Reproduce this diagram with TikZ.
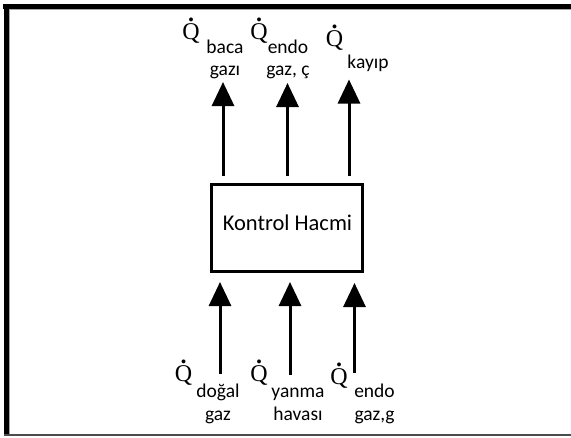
\documentclass[tikz,border=0pt]{standalone}
\usepackage{fontspec}
\setmainfont{Carlito}
\newfontfamily\qfont{Liberation Serif}
\newcommand\qdotsym{\leavevmode\hbox{\ooalign{Q\cr\hidewidth\raisebox{0.74em}{\textbf{.}}\hidewidth\cr}}}
\usetikzlibrary{arrows.meta}
\begin{document}
\begin{tikzpicture}[x=1pt,y=-1pt,
  flow/.style={line width=3pt, -{Triangle[width=22pt,length=24pt]}},
  qlab/.style={inner sep=0pt, anchor=base, font=\qfont\fontsize{24}{24}\selectfont},
  subtop/.style={inner sep=0pt, anchor=base, align=center, font=\fontsize{19.5}{22}\selectfont},
  subbot/.style={inner sep=0pt, anchor=base, align=center, font=\fontsize{19.5}{23}\selectfont},
  cv/.style={draw, line width=3pt, minimum width=151pt, minimum height=87.3pt, inner sep=0pt},
  frameedge/.style={line width=5pt, black},
  frameshade/.style={line width=1pt, gray!70}
]
\useasboundingbox (0,0) rectangle (571,437);
% frame
\draw[frameshade] (9.2,9.5) -- (571,9.5);
\draw[frameshade] (9.2,9.5) -- (9.2,434);
\draw[frameedge] (3,6.7) -- (571,6.7);
\draw[frameedge] (6,4.3) -- (6,435.6);
\draw[line width=1.4pt, gray!60!black] (3.5,435) -- (571,435);

% control volume
\node[cv] (cv) at (287,227.8) {};
\node[inner sep=0pt, anchor=base, font=\fontsize{22.5}{22.5}\selectfont] (cvtext) at (287.5,230.7) {Kontrol Hacmi};

% arrow end points
\coordinate (t1s) at (223,176);   \coordinate (t1e) at (223,82);
\coordinate (t2s) at (287.5,176); \coordinate (t2e) at (287.5,83);
\coordinate (t3s) at (349,176);   \coordinate (t3e) at (349,79.5);
\coordinate (b1s) at (220,374);   \coordinate (b1e) at (220,282);
\coordinate (b2s) at (290,375);   \coordinate (b2e) at (290,282);
\coordinate (b3s) at (354.5,373); \coordinate (b3e) at (354.5,283);

\draw[flow] (t1s) -- (t1e);
\draw[flow] (t2s) -- (t2e);
\draw[flow] (t3s) -- (t3e);
\draw[flow] (b1s) -- (b1e);
\draw[flow] (b2s) -- (b2e);
\draw[flow] (b3s) -- (b3e);

% outgoing labels
\node[qlab] (q1) at (191,39) {\qdotsym};
\node[subtop] (s1) at (225,75) {baca\\gazı};
\node[qlab] (q2) at (259,39) {\qdotsym};
\node[subtop] (s2) at (288,75) {endo\\gaz, ç};
\node[qlab] (q3) at (334.5,46) {\qdotsym};
\node[subtop] (s3) at (368,68) {kayıp};

% incoming labels
\node[qlab] (qb1) at (183.5,381.5) {\qdotsym};
\node[subbot] (sb1) at (218,420) {doğal\\gaz};
\node[qlab] (qb2) at (259,381.5) {\qdotsym};
\node[subbot] (sb2) at (298,420) {yanma\\havası};
\node[qlab] (qb3) at (339,384) {\qdotsym};
\node[subbot] (sb3) at (374.5,420) {endo\\gaz,g};
\end{tikzpicture}
\end{document}
